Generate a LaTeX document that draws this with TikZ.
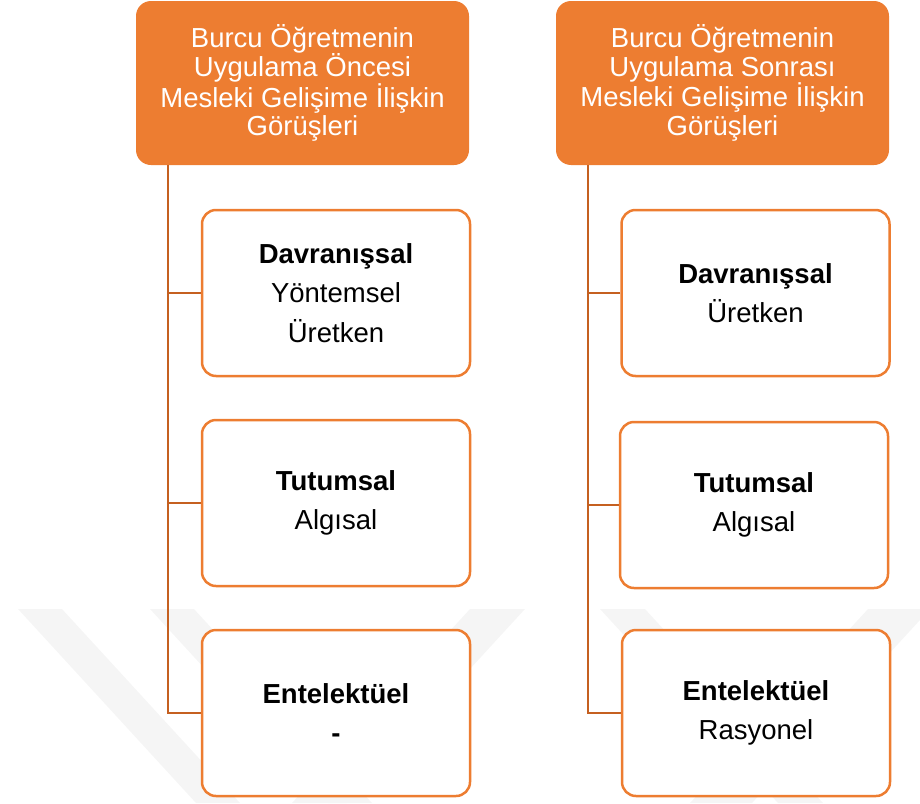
\documentclass[tikz,border=0pt]{standalone}
\usepackage{fontspec}
\setmainfont{Liberation Sans}
\newfontfamily\hdfont{Liberation Sans}
\newfontfamily\chfont{Liberation Sans}
\definecolor{orng}{RGB}{237,125,49}
\definecolor{conncol}{RGB}{197,96,32}
\definecolor{wmark}{RGB}{245,245,245}
\tikzset{
  header/.style={rectangle, rounded corners=15pt, fill=orng, draw=none,
    minimum width=333pt, minimum height=164pt, inner sep=0pt,
    align=center, text=white, font=\hdfont\fontsize{27.5}{28.4}\selectfont},
  childbox/.style={rectangle, rounded corners=14pt, fill=white, draw=orng,
    line width=2.5pt, minimum width=268pt, minimum height=166pt, inner sep=0pt,
    align=center, text=black, font=\chfont\fontsize{27.5}{39.5}\selectfont},
  conn/.style={draw=conncol, line width=2.5pt},
  wm/.style={fill=wmark, draw=none}
}
\begin{document}
\begin{tikzpicture}[x=1pt,y=-1pt]
\useasboundingbox (0,0) rectangle (920,803);
% faint watermark
\fill[wm] (18,609) -- (62,609) -- (240,803) -- (196,803) -- cycle;
\fill[wm] (150,609) -- (194,609) -- (372,803) -- (328,803) -- cycle;
\fill[wm] (470,609) -- (525,609) -- (347,803) -- (292,803) -- cycle;
\fill[wm] (600,609) -- (645,609) -- (823,803) -- (778,803) -- cycle;
\fill[wm] (868,609) -- (920,609) -- (920,620) -- (752,803) -- (690,803) -- cycle;
% headers
\node[header] (hL) at (302.5,83) {Burcu Öğretmenin\\Uygulama Öncesi\\Mesleki Gelişime İlişkin\\Görüşleri};
\node[header] (hR) at (722.5,83) {Burcu Öğretmenin\\Uygulama Sonrası\\Mesleki Gelişime İlişkin\\Görüşleri};
% left children
\node[childbox] (cL1) at (336,293) {\textbf{Davranışsal}\\Yöntemsel\\Üretken};
\node[childbox] (cL2) at (336,503) {\textbf{Tutumsal}\\Algısal};
\node[childbox] (cL3) at (336,713) {\textbf{Entelektüel}\\\textbf{-}};
% right children
\node[childbox] (cR1) at (755.5,293) {\textbf{Davranışsal}\\Üretken};
\node[childbox] (cR2) at (754,505) {\textbf{Tutumsal}\\Algısal};
\node[childbox] (cR3) at (756,713) {\textbf{Entelektüel}\\Rasyonel};
% trunks
\coordinate (tL) at ([xshift=32pt]hL.south west);
\coordinate (tR) at ([xshift=32pt]hR.south west);
\draw[conn] (tL) |- (cL3.west);
\draw[conn] (cL1.west) -- (cL1.west -| tL);
\draw[conn] (cL2.west) -- (cL2.west -| tL);
\draw[conn] (tR) |- (cR3.west);
\draw[conn] (cR1.west) -- (cR1.west -| tR);
\draw[conn] (cR2.west) -- (cR2.west -| tR);
\end{tikzpicture}
\end{document}
